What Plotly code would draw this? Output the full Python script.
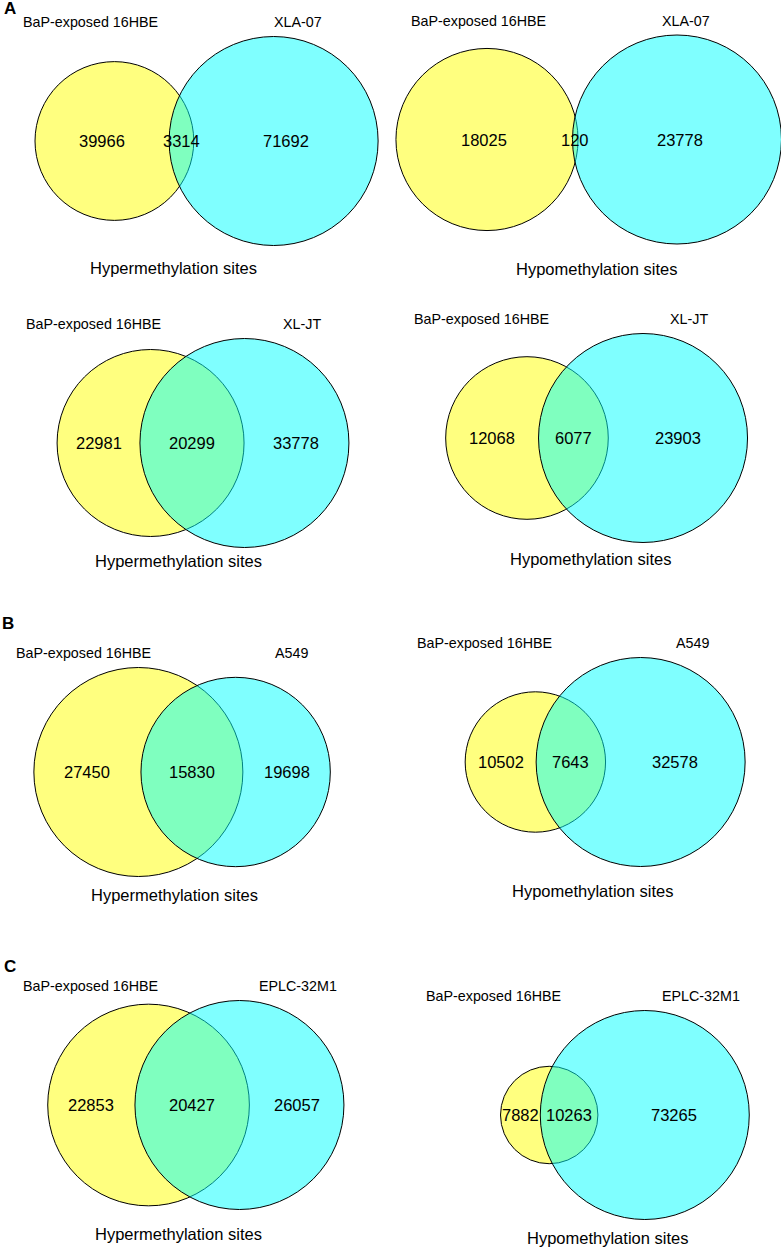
import math
import plotly.graph_objects as go

# ---------------- data ----------------
set_a_name = "BaP-exposed 16HBE"
set_b_names = ["XLA-07", "XLA-07", "XL-JT", "XL-JT", "A549", "A549", "EPLC-32M1", "EPLC-32M1"]
panel_titles = ["Hypermethylation sites", "Hypomethylation sites"] * 4
only_a = [39966, 18025, 22981, 12068, 27450, 10502, 22853, 7882]
both = [3314, 120, 20299, 6077, 15830, 7643, 20427, 10263]
only_b = [71692, 23778, 33778, 23903, 19698, 32578, 26057, 73265]
panel_letters = {0: "A", 4: "B", 6: "C"}

# ---------------- layout (pixels) ----------------
W, H = 781, 1247
R_MAX = 104.5
panel_mid = [(194, 141), (582, 139.5), (197.5, 443), (585, 438),
             (187, 772), (588, 762), (194, 1105), (597, 1115)]
title_pos = [(173, 268), (596.5, 269), (178, 561), (590, 559),
             (174.5, 895), (592, 891), (178, 1234), (607, 1238)]
letter_pos = {0: (2, 8), 4: (0, 623), 6: (2, 966)}
FONT = "Arial, Liberation Sans, sans-serif"
YELLOW = "rgba(255,255,0,0.5)"
CYAN = "rgba(0,255,255,0.5)"


def lens_area(r1, r2, d):
    if d >= r1 + r2:
        return 0.0
    if d <= abs(r1 - r2):
        return math.pi * min(r1, r2) ** 2
    a1 = r1 * r1 * math.acos((d * d + r1 * r1 - r2 * r2) / (2 * d * r1))
    a2 = r2 * r2 * math.acos((d * d + r2 * r2 - r1 * r1) / (2 * d * r2))
    a3 = 0.5 * math.sqrt((-d + r1 + r2) * (d + r1 - r2) * (d - r1 + r2) * (d + r1 + r2))
    return a1 + a2 - a3


def find_distance(r1, r2, target):
    lo, hi = abs(r1 - r2), r1 + r2
    for _ in range(200):
        mid = (lo + hi) / 2
        if lens_area(r1, r2, mid) > target:
            lo = mid
        else:
            hi = mid
    return (lo + hi) / 2


fig = go.Figure()
# invisible trace to establish axes
fig.add_trace(go.Scatter(x=[0, W], y=[0, H], mode="markers",
                         marker=dict(opacity=0), hoverinfo="skip", showlegend=False))

shapes = []
annotations = []

for i in range(8):
    na = only_a[i] + both[i]
    nb = only_b[i] + both[i]
    k = R_MAX / math.sqrt(max(na, nb))
    r1 = k * math.sqrt(na)
    r2 = k * math.sqrt(nb)
    d = find_distance(r1, r2, math.pi * k * k * both[i])
    mx, my = panel_mid[i]
    c1 = mx - d / 2
    c2 = mx + d / 2

    shapes.append(dict(type="circle", xref="x", yref="y",
                       x0=c1 - r1, x1=c1 + r1, y0=my - r1, y1=my + r1,
                       fillcolor=YELLOW, line=dict(color="black", width=1), layer="above"))
    shapes.append(dict(type="circle", xref="x", yref="y",
                       x0=c2 - r2, x1=c2 + r2, y0=my - r2, y1=my + r2,
                       fillcolor=CYAN, line=dict(color="black", width=1), layer="above"))

    xl = ((c1 - r1) + (c2 - r2)) / 2
    xm = ((c2 - r2) + (c1 + r1)) / 2
    xr = ((c1 + r1) + (c2 + r2)) / 2
    for xx, val in [(xl, only_a[i]), (xm, both[i]), (xr, only_b[i])]:
        annotations.append(dict(x=xx, y=my, xref="x", yref="y", text=str(val),
                                showarrow=False, xanchor="center", yanchor="middle",
                                font=dict(family=FONT, size=16.5, color="black")))

    ly = my - R_MAX - 14.5
    annotations.append(dict(x=mx - 104, y=ly, xref="x", yref="y", text=set_a_name,
                            showarrow=False, xanchor="center", yanchor="middle",
                            font=dict(family=FONT, size=14.3, color="black")))
    annotations.append(dict(x=mx + 104, y=ly, xref="x", yref="y", text=set_b_names[i],
                            showarrow=False, xanchor="center", yanchor="middle",
                            font=dict(family=FONT, size=14.3, color="black")))

    tx, ty = title_pos[i]
    annotations.append(dict(x=tx, y=ty, xref="x", yref="y", text=panel_titles[i],
                            showarrow=False, xanchor="center", yanchor="middle",
                            font=dict(family=FONT, size=16.5, color="black")))

    if i in panel_letters:
        lx, lyy = letter_pos[i]
        annotations.append(dict(x=lx, y=lyy, xref="x", yref="y",
                                text="<b>" + panel_letters[i] + "</b>",
                                showarrow=False, xanchor="left", yanchor="middle",
                                font=dict(family=FONT, size=17, color="black")))

fig.update_layout(
    width=W, height=H,
    margin=dict(l=0, r=0, t=0, b=0, pad=0),
    paper_bgcolor="white", plot_bgcolor="white",
    xaxis=dict(range=[0, W], visible=False, fixedrange=True),
    yaxis=dict(range=[H, 0], visible=False, fixedrange=True),
    shapes=shapes, annotations=annotations,
    showlegend=False,
)

fig.write_html("out.html", config={"displayModeBar": False},
               post_script="document.body.style.margin='0';")
